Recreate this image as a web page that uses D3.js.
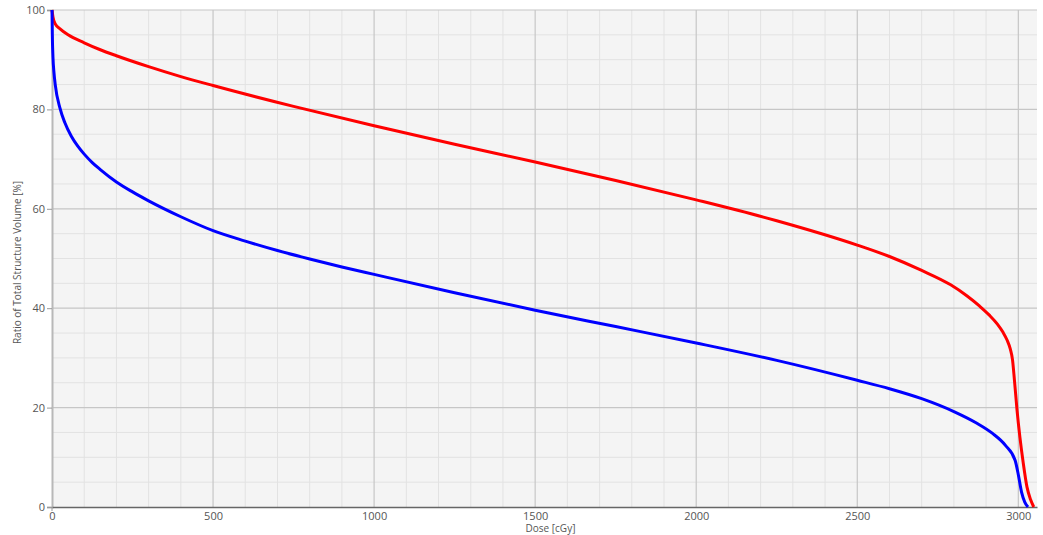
<!DOCTYPE html>
<html>
<head>
<meta charset="utf-8">
<script src="https://cdn.jsdelivr.net/npm/d3@7"></script>
<style>
  body { margin: 0; background: #fff; }
  text { font-family: "Open Sans", "DejaVu Sans", sans-serif; fill: #555; }
</style>
</head>
<body>
<div id="chart"></div>
<script>
// dose [cGy] / volume [%]
var redDose = [0, 3, 10, 25, 50, 100, 150, 200, 300, 400, 500, 750, 1000, 1250, 1500, 1750, 2000, 2250, 2500, 2600, 2700, 2790, 2840, 2880, 2910, 2935, 2952, 2965, 2975, 2982, 2988, 2996, 3005, 3015, 3027, 3038, 3048];
var redVol  = [100, 98.6, 97.2, 96.2, 95, 93.4, 92, 90.8, 88.6, 86.6, 84.8, 80.6, 76.7, 73, 69.4, 65.7, 61.8, 57.6, 52.7, 50.4, 47.6, 44.7, 42.5, 40.4, 38.6, 36.8, 35.2, 33.6, 31.8, 29.6, 25.5, 19.5, 14, 9, 4, 1.5, 0];

var blueDose = [0, 1, 3, 6, 10, 25, 40, 60, 80, 100, 125, 150, 200, 250, 300, 400, 500, 600, 700, 800, 900, 1000, 1250, 1500, 1750, 2000, 2250, 2500, 2600, 2700, 2800, 2870, 2920, 2960, 2990, 3000, 3010, 3020, 3030];
var blueVol  = [100, 95, 90.5, 87.5, 85, 80.2, 77.3, 74.6, 72.6, 71, 69.3, 67.9, 65.4, 63.4, 61.6, 58.4, 55.6, 53.5, 51.6, 49.9, 48.3, 46.8, 43.1, 39.6, 36.3, 33, 29.5, 25.5, 23.8, 21.8, 19.2, 16.9, 14.8, 12.4, 9.4, 6.5, 3, 1, 0];

var xTicks = [0, 500, 1000, 1500, 2000, 2500, 3000];
var yTicks = [0, 20, 40, 60, 80, 100];

var W = 1043, H = 535;
var mLeft = 52, mRight = 1037, mTop = 10, mBottom = 507;

var x = d3.scaleLinear().domain([0, 3058]).range([mLeft, mRight]);
var y = d3.scaleLinear().domain([0, 100]).range([mBottom, mTop]);

var svg = d3.select("#chart").append("svg")
  .attr("width", W)
  .attr("height", H);

svg.append("rect")
  .attr("x", mLeft).attr("y", mTop)
  .attr("width", mRight - mLeft).attr("height", mBottom - mTop)
  .attr("fill", "#f4f4f4");

// minor grid
svg.append("g").selectAll("line")
  .data(d3.range(100, 3058, 100).filter(function(d){ return d % 500 !== 0; }))
  .enter().append("line")
  .attr("x1", function(d){ return x(d); }).attr("x2", function(d){ return x(d); })
  .attr("y1", mTop).attr("y2", mBottom)
  .attr("stroke", "#e2e2e2").attr("stroke-width", 1);

svg.append("g").selectAll("line")
  .data(d3.range(5, 100, 5).filter(function(d){ return d % 20 !== 0; }))
  .enter().append("line")
  .attr("x1", mLeft).attr("x2", mRight)
  .attr("y1", function(d){ return y(d); }).attr("y2", function(d){ return y(d); })
  .attr("stroke", "#e2e2e2").attr("stroke-width", 1);

// major grid
svg.append("g").selectAll("line")
  .data(xTicks.filter(function(d){ return d > 0; }))
  .enter().append("line")
  .attr("x1", function(d){ return x(d); }).attr("x2", function(d){ return x(d); })
  .attr("y1", mTop).attr("y2", mBottom)
  .attr("stroke", "#c6c6c6").attr("stroke-width", 1.2);

svg.append("g").selectAll("line")
  .data(yTicks.filter(function(d){ return d > 0; }))
  .enter().append("line")
  .attr("x1", mLeft).attr("x2", mRight)
  .attr("y1", function(d){ return y(d); }).attr("y2", function(d){ return y(d); })
  .attr("stroke", "#c6c6c6").attr("stroke-width", 1.2);

// axes
var yAxis = svg.append("g")
  .attr("transform", "translate(" + mLeft + ",0)")
  .call(d3.axisLeft(y).tickValues(yTicks).tickSize(5).tickPadding(2));
yAxis.select(".domain").attr("stroke", "#b8b8b8").attr("stroke-width", 2);
yAxis.selectAll(".tick line").attr("stroke", "#999");
yAxis.selectAll("text").style("font-size", "11px").attr("fill", "#555");

var xAxis = svg.append("g")
  .attr("transform", "translate(0," + mBottom + ")")
  .call(d3.axisBottom(x).tickValues(xTicks).tickFormat(d3.format("d")).tickSize(0).tickPadding(5));
xAxis.select(".domain").attr("stroke", "#666").attr("stroke-width", 1.5);
xAxis.selectAll("text").style("font-size", "11px").attr("fill", "#555");

svg.append("line")
  .attr("x1", mLeft).attr("x2", mLeft)
  .attr("y1", mBottom).attr("y2", mBottom + 4)
  .attr("stroke", "#999");

svg.append("text")
  .attr("x", (mLeft + mRight) / 2 + 6).attr("y", 532)
  .attr("text-anchor", "middle")
  .style("font-size", "10px")
  .text("Dose [cGy]");

svg.append("text")
  .attr("transform", "translate(21," + ((mTop + mBottom) / 2 + 4) + ") rotate(-90)")
  .attr("text-anchor", "middle")
  .style("font-size", "10px")
  .text("Ratio of Total Structure Volume [%]");

var line = d3.line()
  .x(function(d){ return x(d[0]); })
  .y(function(d){ return y(d[1]); })
  .curve(d3.curveMonotoneX);

svg.append("path")
  .datum(d3.zip(redDose, redVol))
  .attr("d", line)
  .attr("fill", "none")
  .attr("stroke", "#ff0000")
  .attr("stroke-width", 3);

svg.append("path")
  .datum(d3.zip(blueDose, blueVol))
  .attr("d", line)
  .attr("fill", "none")
  .attr("stroke", "#0000ff")
  .attr("stroke-width", 3);
</script>
</body>
</html>
